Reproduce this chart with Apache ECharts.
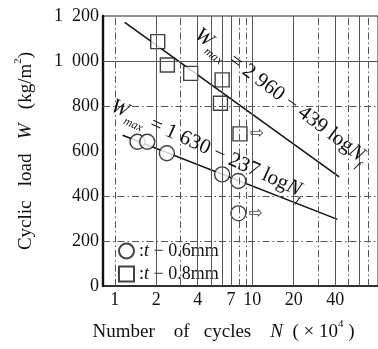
<!DOCTYPE html>
<html>
<head>
<meta charset="utf-8">
<script src="https://cdn.jsdelivr.net/npm/echarts@6/dist/echarts.min.js"></script>
<style>
  html, body { margin: 0; padding: 0; background: #fff; }
  #chart { width: 378px; height: 349px; }
</style>
</head>
<body>
<div id="chart"></div>
<script>
// Values: N in 10^4 cycles, W in kg/m2
const circleN = [1.46, 1.72, 2.39, 6.03, 7.91, 7.91];
const circleW = [641, 641, 590, 496, 467, 323];
const circleRunout = [false, false, false, false, false, true];

const squareN = [2.05, 2.41, 3.56, 6.03, 5.86, 8.13];
const squareW = [1086, 982, 945, 916, 812, 676];
const squareRunout = [false, false, false, false, false, true];

// fitted lines, end points as drawn
const fit08N = [1.18, 42.8];
const fit08W = [1172, 485];
const fit06N = [1.14, 41.6];
const fit06W = [670, 296];

const xTicks = [1, 2, 4, 7, 10, 20, 40];
const yTicks = [0, 200, 400, 600, 800, 1000, 1200];

// grid lines of the chart paper
const xGridSolid = [2, 4, 5, 6, 7, 10, 20, 40, 60];
const xGridDash = [1, 3, 8, 9, 30, 50, 70];
const yGridSolid = [1000];
const yGridDash = [200, 400, 800];

// where the two equations sit (data coords)
const noteUpperAt = [16.1, 845];
const noteLowerAt = [4.72, 610];

const FONT = "Liberation Serif";
const INK = "#111";

const chartDom = document.getElementById("chart");
const myChart = echarts.init(chartDom);

const dashDot = [7, 3, 1.5, 3];
const gridLines = []
  .concat(xGridSolid.map((v) => ({ xAxis: v, lineStyle: { type: "solid" } })))
  .concat(xGridDash.map((v) => ({ xAxis: v, lineStyle: { type: dashDot } })))
  .concat(yGridSolid.map((v) => ({ yAxis: v, lineStyle: { type: "solid" } })))
  .concat(yGridDash.map((v) => ({ yAxis: v, lineStyle: { type: dashDot } })));

const runoutLabel = {
  show: false,
  formatter: "\u21E8",
  position: "right",
  distance: 2,
  fontSize: 17,
  fontFamily: "DejaVu Sans",
  color: INK,
};

const titleRich = {
  i: { fontFamily: FONT, fontSize: 19, fontStyle: "italic", color: INK },
  sup: { fontFamily: FONT, fontSize: 11, color: INK, verticalAlign: "top", lineHeight: 26 },
};

const option = {
  animation: false,
  backgroundColor: "#fff",
  grid: {
    show: true,
    left: 103,
    top: 16,
    right: -7,
    bottom: 63,
    borderColor: "#222",
    borderWidth: 1,
  },
  xAxis: {
    type: "log",
    logBase: 10,
    min: 0.82,
    max: 82,
    name: "Number    of   cycles    {i|N}  ( × 10{sup|4} )",
    nameLocation: "middle",
    nameGap: 33,
    nameTextStyle: {
      fontFamily: FONT,
      fontSize: 19,
      color: INK,
      padding: [0, 34, 0, 0],
      rich: titleRich,
    },
    axisLine: { show: true, onZero: false, lineStyle: { color: INK, width: 1.6 } },
    axisTick: { show: false },
    minorTick: { show: false },
    splitLine: { show: false },
    axisLabel: {
      customValues: xTicks,
      formatter: (v) => String(v),
      fontFamily: FONT,
      fontSize: 18,
      color: INK,
      margin: 5,
    },
  },
  yAxis: {
    type: "value",
    min: 0,
    max: 1200,
    interval: 200,
    name: "Cyclic   load   {i|W}   (kg/m{sup|2})",
    nameLocation: "middle",
    nameRotate: 90,
    nameGap: 64,
    nameTextStyle: {
      fontFamily: FONT,
      fontSize: 19,
      color: INK,
      rich: titleRich,
    },
    axisLine: { show: true, lineStyle: { color: INK, width: 2.4 } },
    axisTick: { show: false },
    splitLine: { show: false },
    axisLabel: {
      customValues: yTicks,
      formatter: (v) => (v >= 1000 ? Math.floor(v / 1000) + "  " + String(v % 1000).padStart(3, "0") : String(v)),
      fontFamily: FONT,
      fontSize: 18,
      color: INK,
      margin: 4,
    },
  },
  legend: {
    orient: "vertical",
    left: 116,
    top: 241,
    itemWidth: 15,
    itemHeight: 15,
    itemGap: 5,
    padding: [1, 2, 1, 2],
    backgroundColor: "#fff",
    data: ["0.6", "0.8"],
    formatter: (name) => ":{i|t} − " + name + "mm",
    textStyle: {
      fontFamily: FONT,
      fontSize: 18,
      color: INK,
      rich: {
        i: { fontFamily: FONT, fontSize: 18, fontStyle: "italic", color: INK },
      },
    },
  },
  series: [
    {
      name: "fit 0.8",
      type: "line",
      symbol: "none",
      silent: true,
      z: 2,
      lineStyle: { color: INK, width: 1.5 },
      data: fit08N.map((n, i) => [n, fit08W[i]]),
      markLine: {
        silent: true,
        symbol: ["none", "none"],
        label: { show: false },
        lineStyle: { color: "#555", width: 1 },
        data: gridLines,
      },
    },
    {
      name: "fit 0.6",
      type: "line",
      symbol: "none",
      silent: true,
      z: 2,
      lineStyle: { color: INK, width: 1.5 },
      data: fit06N.map((n, i) => [n, fit06W[i]]),
    },
    {
      name: "0.6",
      type: "scatter",
      symbol: "circle",
      symbolSize: 15,
      z: 3,
      itemStyle: { color: "#fff", borderColor: INK, borderWidth: 1.4 },
      label: runoutLabel,
      data: circleN.map((n, i) => ({ value: [n, circleW[i]], label: { show: circleRunout[i] } })),
    },
    {
      name: "0.8",
      type: "scatter",
      symbol: "rect",
      symbolSize: 14,
      z: 3,
      itemStyle: { color: "#fff", borderColor: INK, borderWidth: 1.4 },
      label: runoutLabel,
      data: squareN.map((n, i) => ({ value: [n, squareW[i]], label: { show: squareRunout[i] } })),
    },
  ],
};

myChart.setOption(option);

// equations along the fitted lines
const noteRich = {
  i: { fontFamily: FONT, fontSize: 21, fontStyle: "italic", fill: INK, lineHeight: 30 },
  n: { fontFamily: FONT, fontSize: 21, fill: INK, lineHeight: 30 },
  s: { fontFamily: FONT, fontSize: 12, fontStyle: "italic", fill: INK, lineHeight: 30, verticalAlign: "bottom" },
};
const upperPx = myChart.convertToPixel({ gridIndex: 0 }, noteUpperAt);
const lowerPx = myChart.convertToPixel({ gridIndex: 0 }, noteLowerAt);

myChart.setOption({
  graphic: [
    {
      type: "text",
      x: upperPx[0],
      y: upperPx[1],
      rotation: (-37 * Math.PI) / 180,
      z: 10,
      style: {
        text: "{i|W}{s|max}{n| = 2 960 − 439 log}{i|N}{s|f}",
        rich: noteRich,
        align: "center",
        verticalAlign: "middle",
      },
    },
    {
      type: "text",
      x: lowerPx[0],
      y: lowerPx[1],
      rotation: (-24.5 * Math.PI) / 180,
      z: 10,
      style: {
        text: "{i|W}{s|max}{n| = 1 630 − 237 log}{i|N}{s|f}",
        rich: noteRich,
        align: "center",
        verticalAlign: "middle",
      },
    },
  ],
});

window.addEventListener("resize", () => myChart.resize());
</script>
</body>
</html>
